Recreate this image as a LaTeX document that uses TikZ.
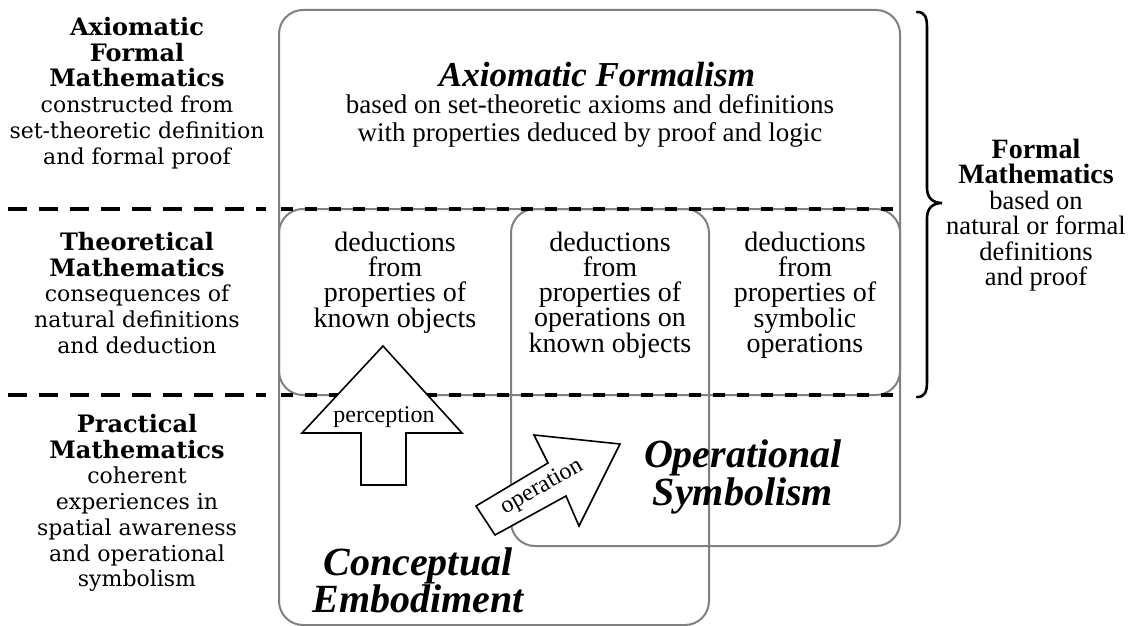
\documentclass[tikz,border=0pt]{standalone}
\usepackage{fontspec}
\setmainfont{Liberation Serif}
\newfontfamily\leftfont{DejaVu Serif}
\newcommand\leftbold[1]{{\fontsize{24}{25.7}\selectfont\bfseries #1}}
\newcommand\rightbold[1]{{\fontsize{28}{25.5}\selectfont\bfseries #1}}
\begin{document}
\begin{tikzpicture}[x=1pt,y=-1pt,
  box/.style={draw=black!50, line width=2pt, rounded corners=24pt},
  lvl/.style={line width=4pt, dash pattern=on 12pt off 12pt},
  lvlL/.style={line width=4pt, dash pattern=on 19pt off 12pt},
  bigarrow/.style={draw=black, line width=1.6pt, fill=white, line join=miter},
  lefttxt/.style={align=center, inner sep=0pt, font=\leftfont\fontsize{22}{25.7}\selectfont},
  righttxt/.style={align=center, inner sep=0pt, font=\fontsize{26.5}{25.5}\selectfont},
  maintxt/.style={align=center, inner sep=0pt, font=\fontsize{27}{28}\selectfont},
  coltxt/.style={align=center, inner sep=0pt, font=\fontsize{28}{25}\selectfont},
  bigtitle/.style={align=center, inner sep=0pt, font=\bfseries\itshape\fontsize{35}{35}\selectfont},
  regtitle/.style={align=center, inner sep=0pt, font=\bfseries\itshape\fontsize{40}{33.5}\selectfont},
  arrtxt/.style={inner sep=0pt, font=\fontsize{24}{24}\selectfont}
]
\useasboundingbox (0,0) rectangle (1136,626);
\fill[white] (0,0) rectangle (1136,626);
% boxes
\draw[box] (279,10) rectangle (900,395);
\draw[box] (279,209) rectangle (709,625);
\draw[box] (511,209) rectangle (900,546);
% level lines
\draw[lvlL] (8,209) -- (266,209);
\draw[lvlL] (8,395) -- (266,395);
\draw[lvl] (281,209) -- (898,209);
\draw[lvl] (281,395) -- (898,395);
% arrows
\draw[bigarrow] (383,346) -- (462,433) -- (406,433) -- (406,485) -- (361,485) -- (361,433) -- (302,433) -- cycle;
\draw[bigarrow] (476,506) -- (548,463) -- (534,435) -- (620,444) -- (579,526) -- (566,496) -- (495,535) -- cycle;
\node[arrtxt] (perc) at (384,417) {perception};
\node[arrtxt, rotate=29.5] (oper) at (542,487) {operation};
% brace
\draw[line width=2.6pt, line cap=round] (917,12) .. controls (925,12) and (927,17) .. (927,28)
  -- (927,188) .. controls (927,198) and (933,203) .. (942,203)
  .. controls (933,203) and (927,208) .. (927,218)
  -- (927,381) .. controls (927,392) and (925,397) .. (917,397);
% texts
\node[bigtitle] (axf) at (597,75) {Axiomatic Formalism};
\node[maintxt] (axd) at (590,121) {based on set-theoretic axioms and definitions\\with properties deduced by proof and logic};
\node[coltxt] (c1) at (395,283) {deductions\\from\\properties of\\known objects};
\node[coltxt] (c2) at (610,295) {deductions\\from\\properties of\\operations on\\known objects};
\node[coltxt] (c3) at (805,295) {deductions\\from\\properties of\\symbolic\\operations};
\node[regtitle] (os) at (743,477) {Operational\\Symbolism};
\node[regtitle] (ce) at (418,580) {Conceptual\\Embodiment};
\node[lefttxt] (l1) at (137,93) {\leftbold{Axiomatic}\\\leftbold{Formal}\\\leftbold{Mathematics}\\constructed from\\set-theoretic definition\\and formal proof};
\node[lefttxt] (l2) at (137,293) {\leftbold{Theoretical}\\\leftbold{Mathematics}\\consequences of\\natural definitions\\and deduction};
\node[lefttxt] (l3) at (137,503) {\leftbold{Practical}\\\leftbold{Mathematics}\\coherent\\experiences in\\spatial awareness\\and operational\\symbolism};
\node[righttxt] (r1) at (1036,215) {\rightbold{Formal}\\\rightbold{Mathematics}\\based on\\natural or formal\\definitions\\and proof};
\end{tikzpicture}
\end{document}
